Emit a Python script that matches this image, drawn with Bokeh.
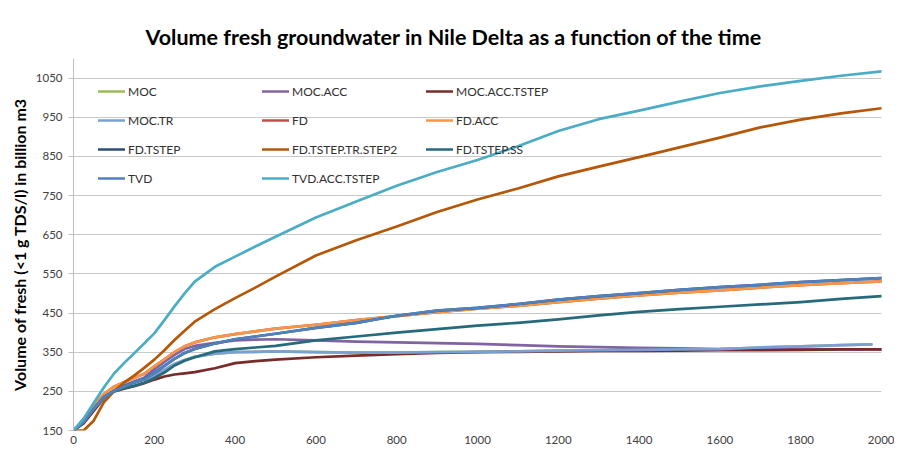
from bokeh.plotting import figure
from bokeh.models import Range1d, FixedTicker, Legend, LegendItem
from bokeh.embed import file_html
from bokeh.resources import INLINE

# ---- data (time in years, volume in billion m3) ----
t = [0, 25, 50, 75, 100, 125, 150, 175, 200, 225, 250, 275, 300, 350, 400, 450, 500,
     600, 700, 800, 900, 1000, 1100, 1200, 1300, 1400, 1500, 1600, 1700, 1800, 1900, 2000]
t_moc = [0, 25, 50, 75, 100, 125, 150, 175, 200, 225, 250, 275, 300, 350, 400, 450, 500,
         600, 700, 800, 900, 1000, 1100, 1200, 1300, 1400, 1500, 1600, 1700, 1800, 1900, 1975]

moc = [150, 172, 205, 233, 250, 262, 272, 280, 291, 305, 320, 330, 338, 346, 350, 351, 352,
       350, 349, 349, 350, 351, 352, 354, 355, 356, 357, 358, 362, 365, 368, 370]
moc_acc = [150, 172, 205, 235, 252, 265, 275, 285, 306, 325, 343, 358, 366, 374, 380, 382, 383,
           380, 377, 375, 373, 371, 368, 365, 363, 361, 360, 358, 358, 358, 357, 357]
moc_acc_tstep = [150, 168, 200, 232, 250, 257, 263, 271, 280, 288, 293, 296, 299, 309, 322, 327, 331,
                 337, 341, 345, 348, 350, 351, 352, 353, 353, 354, 355, 355, 356, 357, 357]
moc_tr = [150, 172, 205, 233, 250, 262, 272, 280, 291, 305, 320, 330, 338, 346, 350, 351, 352,
          350, 349, 349, 350, 351, 352, 354, 355, 356, 357, 358, 362, 365, 368, 370]
fd = [150, 178, 215, 243, 262, 273, 284, 295, 314, 332, 350, 365, 375, 388, 396, 403, 410,
      420, 432, 442, 452, 461, 468, 478, 487, 495, 502, 508, 515, 521, 526, 531]
fd_acc = [150, 178, 215, 243, 262, 273, 284, 295, 314, 332, 350, 365, 375, 388, 396, 403, 410,
          420, 432, 442, 452, 461, 468, 478, 487, 495, 502, 508, 515, 521, 526, 531]
fd_tstep = [150, 172, 205, 235, 250, 262, 273, 281, 297, 315, 333, 348, 358, 372, 383, 390, 397,
            412, 425, 443, 456, 463, 473, 484, 493, 501, 509, 516, 522, 529, 534, 539]
fd_tstep_tr_step2 = [150, 150, 175, 222, 250, 272, 290, 310, 331, 355, 381, 405, 428, 460, 488, 515, 543,
                     597, 636, 671, 708, 740, 768, 799, 824, 848, 873, 898, 924, 944, 960, 973]
fd_tstep_ss = [150, 172, 205, 235, 250, 258, 264, 272, 284, 298, 316, 328, 337, 352, 358, 362, 366,
               380, 390, 400, 409, 418, 425, 434, 444, 453, 460, 466, 472, 478, 486, 493]
tvd = [150, 172, 205, 235, 250, 262, 273, 281, 297, 315, 333, 348, 358, 372, 383, 390, 397,
       412, 425, 443, 456, 463, 473, 484, 493, 501, 509, 516, 522, 529, 534, 539]
tvd_acc_tstep = [150, 180, 220, 260, 295, 322, 347, 372, 398, 432, 467, 500, 530, 568, 594, 620, 645,
                 694, 735, 775, 810, 841, 876, 915, 945, 967, 990, 1012, 1029, 1043, 1056, 1067]

series_names = ["MOC", "MOC.ACC", "MOC.ACC.TSTEP", "MOC.TR", "FD", "FD.ACC", "FD.TSTEP",
                "FD.TSTEP.TR.STEP2", "FD.TSTEP.SS", "TVD", "TVD.ACC.TSTEP"]
series_x = [t_moc, t, t, t_moc, t, t, t, t, t, t, t]
series_y = [moc, moc_acc, moc_acc_tstep, moc_tr, fd, fd_acc, fd_tstep,
            fd_tstep_tr_step2, fd_tstep_ss, tvd, tvd_acc_tstep]
series_colors = ["#9BBB59", "#8064A2", "#772C2A", "#7A9FD5", "#C0504D", "#F79646", "#2C4D75",
                 "#B65708", "#276A7C", "#4F81BD", "#4BACC6"]

x_ticks = [0, 200, 400, 600, 800, 1000, 1200, 1400, 1600, 1800, 2000]
y_ticks = [150, 250, 350, 450, 550, 650, 750, 850, 950, 1050]

FONT = "Lato"

p = figure(width=894, height=450, output_backend="svg", toolbar_location=None,
           x_range=Range1d(0, 2000), y_range=Range1d(150, 1100),
           min_border_left=73, min_border_right=13, min_border_top=58, min_border_bottom=20,
           title="Volume fresh groundwater in Nile Delta as a function of the time")
p.outline_line_color = None
p.background_fill_color = "white"
p.border_fill_color = "white"

p.title.text_font = FONT
p.title.text_font_size = "21.5px"
p.title.text_font_style = "bold"
p.title.text_color = "#000000"
p.title.align = "left"
p.title.offset = 72
p.title.standoff = 18

p.xaxis.ticker = FixedTicker(ticks=x_ticks)
p.yaxis.ticker = FixedTicker(ticks=y_ticks)
for ax in (p.xaxis[0], p.yaxis[0]):
    ax.axis_line_color = "#BFBFBF"
    ax.major_tick_line_color = "#BFBFBF"
    ax.minor_tick_line_color = None
    ax.major_tick_in = 0
    ax.major_label_text_font = FONT
    ax.major_label_text_font_size = "11.5px"
    ax.major_label_text_color = "#404040"
p.xaxis.major_tick_out = 0
p.xaxis.axis_line_color = None
p.xaxis.major_label_standoff = 5
p.yaxis.major_tick_out = 5
p.yaxis.major_label_standoff = 6
p.yaxis.axis_label = "Volume of fresh (<1 g TDS/l) in billion m3"
p.yaxis.axis_label_text_font = FONT
p.yaxis.axis_label_text_font_size = "16px"
p.yaxis.axis_label_text_font_style = "bold"
p.yaxis.axis_label_text_color = "#000000"
p.yaxis.axis_label_standoff = 4

p.xgrid.grid_line_color = None
p.ygrid.grid_line_color = "#C8C8C8"
p.ygrid.grid_line_width = 1

renderers = []
for xs, ys, c in zip(series_x, series_y, series_colors):
    r = p.line(xs, ys, line_color=c, line_width=2.7, line_join="round", line_cap="round")
    renderers.append(r)

# legend: 3 columns laid out row by row
columns = [[0, 3, 6, 9], [1, 4, 7, 10], [2, 5, 8]]
col_x = [25, 189, 353]
for ci, idxs in enumerate(columns):
    items = [LegendItem(label=series_names[i], renderers=[renderers[i]]) for i in idxs]
    n = len(idxs)
    h = n * 22 + (n - 1) * 7
    leg = Legend(items=items, location=(col_x[ci], 350 - h),
                 orientation="vertical", padding=0, margin=0, spacing=7,
                 glyph_width=27, glyph_height=22, label_height=22, label_standoff=3,
                 label_text_font=FONT, label_text_font_size="12px", label_text_color="#303030",
                 background_fill_alpha=0, border_line_alpha=0, click_policy="none")
    p.add_layout(leg, "center")

open("out.html", "w").write(file_html(p, INLINE))
